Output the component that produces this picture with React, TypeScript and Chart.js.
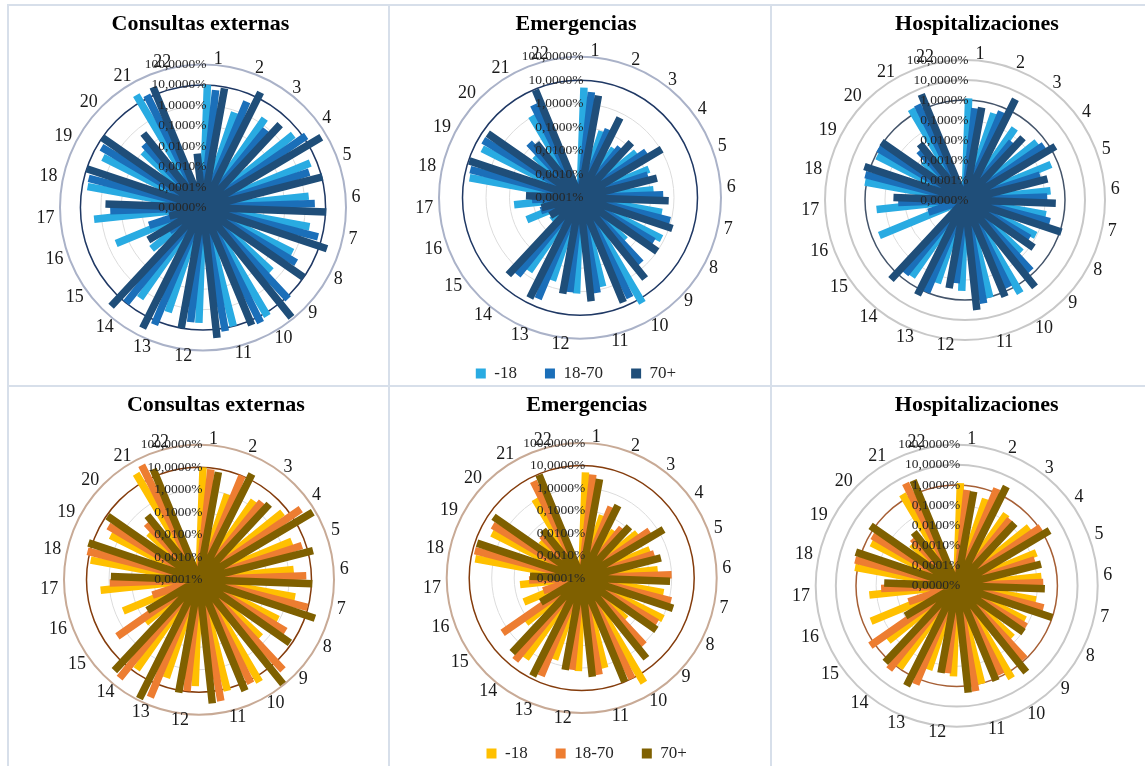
import React, { useEffect, useRef } from 'react';
import { Chart, registerables } from 'chart.js';

Chart.register(...registerables);

// ---------- data ----------
const categories = ['1', '2', '3', '4', '5', '6', '7', '8', '9', '10', '11', '12', '13', '14', '15', '16', '17', '18', '19', '20', '21', '22'];
const seriesLabels = ['-18', '18-70', '70+'];

// values in percent
const consultasTopM18 = [10, 0.8, 2, 4.7, 4.8, 1.6, 2, 0.8, 0.36, 15, 10, 4.5, 2.5, 2.5, 0.017, 0.4, 2.3, 5.5, 3, 0.1, 25, 0];
const consultasTop1870 = [6, 4, 0.8, 14, 3, 3, 6.5, 2, 13, 20, 14, 4.4, 16, 10, 0.001, 0.006, 0.35, 6, 6, 0.17, 14, 0];
const consultasTop70p = [8.5, 20, 3.5, 54, 11, 11, 25, 10, 80, 17, 26, 10, 40, 40, 0.013, 0.0005, 0.6, 10, 10, 0.45, 24, 0.0045];

const emergenciasTopM18 = [4.9, 0.094, 0.035, 0.12, 0.15, 0.14, 0.35, 0.76, 0.043, 16, 0.8, 1.2, 0.52, 0.63, 0.0035, 0.028, 0.066, 5.9, 4.5, 0.042, 1.1, 0];
const emergenciasTop1870 = [3.3, 0.14, 0.054, 0.27, 0.11, 0.35, 0.9, 0.45, 0.63, 5.7, 1.3, 1.1, 4.5, 1.7, 0.0002, 0.0057, 0.011, 6.6, 6.1, 0.15, 2.6, 0];
const emergenciasTop70p = [2.6, 0.63, 0.16, 1.1, 0.24, 0.6, 1.4, 1.0, 2.6, 6.6, 2.7, 1.4, 5.9, 3.0, 0.003, 0.0049, 0.02, 9.3, 6.0, 0.093, 9.1, 0];

const hospitalTopM18 = [1.2, 0.37, 0.23, 0.41, 0.45, 0.2, 0.13, 0.09, 0.068, 2.6, 1.1, 0.35, 0.24, 0.46, 0, 0.43, 0.28, 1.2, 0.83, 0.007, 1.9, 0];
const hospitalTop1870 = [0.41, 0.6, 0.054, 0.63, 0.09, 0.13, 0.24, 0.056, 0.68, 0.76, 1.8, 0.15, 1.0, 0.56, 0, 0.00085, 0.022, 1.4, 1.1, 0.023, 2.1, 0];
const hospitalTop70p = [0.5, 4.3, 0.18, 1.8, 0.18, 0.35, 1.2, 0.15, 3.8, 1.7, 3.4, 0.3, 2.0, 2.7, 0, 0, 0.038, 2.0, 1.2, 0.04, 5.2, 0];

const consultasBotM18 = [10, 1.0, 1.9, 5.9, 2.9, 1.7, 2.2, 0.85, 0.54, 19, 12.5, 5.4, 3.9, 7.2, 0.11, 0.44, 2.5, 7.8, 2.5, 0.11, 30, 0];
const consultasBot1870 = [8.5, 10, 2.8, 32, 6.6, 5.9, 9.5, 3.0, 30, 14, 30, 9.5, 45, 42, 2.6, 0.015, 0.93, 13, 4.8, 0.26, 49, 0];
const consultasBot70p = [7.2, 18, 3.8, 76, 17, 11, 27, 8.3, 90, 22, 34, 12.5, 82, 33, 0.047, 0, 0.83, 15, 8.9, 0.45, 21, 0];

const emergenciasBotM18 = [5, 0.085, 0.035, 0.15, 0.19, 0.25, 0.5, 1.1, 0.048, 26, 1.35, 1.4, 0.66, 2.3, 0.15, 0.06, 0.057, 6.4, 2.9, 0.029, 1.2, 0];
const emergenciasBot1870 = [4.2, 0.26, 0.07, 0.47, 0.25, 1.0, 1.26, 0.8, 1.15, 10, 2.3, 1.26, 5.1, 5.1, 1.9, 0.0063, 0.022, 8, 4.0, 0.039, 6.3, 0];
const emergenciasBot70p = [2.9, 0.4, 0.13, 1.7, 0.43, 0.85, 1.9, 1.1, 3.8, 10, 2.6, 1.4, 7.4, 3.4, 0.013, 0, 0.02, 8, 5.9, 0.055, 9.1, 0];

const hospitalBotM18 = [1.26, 0.35, 0.21, 0.42, 0.19, 0.17, 0.1, 0.063, 0.059, 2.2, 1.07, 0.32, 0.25, 0.93, 0.23, 0.4, 0.23, 1.35, 0.55, 0.011, 1.9, 0];
const hospitalBot1870 = [0.6, 1.65, 0.17, 1.2, 0.12, 0.2, 0.28, 0.1, 0.9, 0.83, 2.1, 0.23, 2.0, 2.2, 1.65, 0.0033, 0.057, 1.6, 0.74, 0.016, 4.8, 0];
const hospitalBot70p = [0.56, 3.2, 0.17, 2.3, 0.21, 0.24, 1.0, 0.11, 3.2, 1.26, 2.2, 0.25, 3.6, 1.6, 0.009, 0, 0.04, 1.9, 1.6, 0.025, 4.5, 0];

// ---------- styles ----------
const blueColors = ['#29abe2', '#1b6fb9', '#1f4e79'];
const orangeColors = ['#ffc000', '#ed7d31', '#7f6000'];
const SERIF = '"Liberation Serif", "Times New Roman", serif';

type Panel = {
  title: string;
  series: number[][];
  colors: string[];
  minExp: number;
  maxExp: number;
  hlExp: number;
  hlColor: string;
  outerColor: string;
  left: number; top: number; width: number; height: number;
  cx: number; cy: number; radius: number;
  titleShift: number;
  legend: boolean;
};

const panels: Panel[] = [
  { title: 'Consultas externas', series: [consultasTopM18, consultasTop1870, consultasTop70p], colors: blueColors,
    minExp: -5, maxExp: 2, hlExp: 1, hlColor: '#1f3864', outerColor: '#aab2c8',
    left: 9, top: 6, width: 379, height: 379, cx: 203, cy: 207.5, radius: 143, titleShift: 2, legend: false },
  { title: 'Emergencias', series: [emergenciasTopM18, emergenciasTop1870, emergenciasTop70p], colors: blueColors,
    minExp: -4, maxExp: 2, hlExp: 1, hlColor: '#1f3864', outerColor: '#aab2c8',
    left: 390, top: 6, width: 380, height: 386, cx: 580, cy: 197.7, radius: 141, titleShift: -4, legend: true },
  { title: 'Hospitalizaciones', series: [hospitalTopM18, hospitalTop1870, hospitalTop70p], colors: blueColors,
    minExp: -5, maxExp: 2, hlExp: 0, hlColor: '#44546a', outerColor: '#c8c8c8',
    left: 772, top: 6, width: 373, height: 379, cx: 965, cy: 200, radius: 140, titleShift: 18.5, legend: false },
  { title: 'Consultas externas', series: [consultasBotM18, consultasBot1870, consultasBot70p], colors: orangeColors,
    minExp: -4, maxExp: 2, hlExp: 1, hlColor: '#843c0c', outerColor: '#c8aa96',
    left: 9, top: 387, width: 379, height: 379, cx: 199, cy: 579.7, radius: 135, titleShift: 17.3, legend: false },
  { title: 'Emergencias', series: [emergenciasBotM18, emergenciasBot1870, emergenciasBot70p], colors: orangeColors,
    minExp: -4, maxExp: 2, hlExp: 1, hlColor: '#843c0c', outerColor: '#c8aa96',
    left: 390, top: 387, width: 380, height: 385, cx: 581.7, cy: 578, radius: 135, titleShift: 6.7, legend: true },
  { title: 'Hospitalizaciones', series: [hospitalBotM18, hospitalBot1870, hospitalBot70p], colors: orangeColors,
    minExp: -5, maxExp: 2, hlExp: 0, hlColor: '#a65f35', outerColor: '#c8c8c8',
    left: 772, top: 387, width: 373, height: 379, cx: 956.7, cy: 585.7, radius: 141, titleShift: 18.2, legend: false },
];

// ---------- helpers ----------
const SLOTS_PER_CAT = 4;
const nSlots = categories.length * SLOTS_PER_CAT;
const START_ANGLE = 180 / nSlots; // degrees: bars sit half a slot clockwise
const slotLabels = Array.from({ length: nSlots }, (_, i) =>
  i % SLOTS_PER_CAT === 1 ? categories[(i - 1) / SLOTS_PER_CAT] : ''
);

function toScale(pct: number, minExp: number) {
  return pct > 0 ? Math.max(0, Math.log10(pct) - minExp) : 0;
}

// each bar: a radial segment from the value point (slot 4c+s) back to the centre (slot 4c+s+1)
function barData(values: number[], s: number, minExp: number) {
  const d: (number | null)[] = new Array(nSlots).fill(null);
  values.forEach((v, c) => {
    d[SLOTS_PER_CAT * c + s] = toScale(v, minExp);
    d[SLOTS_PER_CAT * c + s + 1] = 0;
  });
  return d;
}

function fmtTick(exp: number) {
  return Math.pow(10, exp).toFixed(4).replace('.', ',') + '%';
}

function RadarPanel({ p }: { p: Panel }) {
  const ref = useRef<HTMLCanvasElement | null>(null);
  useEffect(() => {
    if (!ref.current) return;
    const nDec = p.maxExp - p.minExp;
    const ringStyle = (v: number): [string, number] => {
      const exp = v + p.minExp;
      if (exp === p.hlExp) return [p.hlColor, 1.5];
      if (exp > p.hlExp) return [p.outerColor, 2];
      return ['#dcdcdc', 1];
    };
    const startRad = (START_ANGLE * Math.PI) / 180;
    const textPlugin = {
      id: 'radialText',
      afterDatasetsDraw(chart: any) {
        const scale = chart.scales.r;
        const ctx = chart.ctx;
        ctx.save();
        ctx.font = `18px ${SERIF}`;
        ctx.fillStyle = '#1a1a1a';
        ctx.textBaseline = 'middle';
        (chart.data.labels as string[]).forEach((lab, i) => {
          if (!lab) return;
          let ang = scale.getIndexAngle(i) - startRad;
          if (ang < 0) ang += Math.PI * 2;
          const pt = scale.getPointPosition(i, scale.drawingArea + 6, -startRad);
          ctx.textAlign = ang < Math.PI ? 'left' : 'right';
          ctx.fillText(lab, pt.x, pt.y);
        });
        ctx.font = `13.5px ${SERIF}`;
        ctx.fillStyle = '#262626';
        ctx.textAlign = 'right';
        scale.ticks.forEach((t: any) => {
          const d = scale.getDistanceFromCenterForValue(t.value);
          ctx.fillText(t.label, scale.xCenter + 3.5, scale.yCenter - d);
        });
        ctx.restore();
      },
    };
    const shift = p.titleShift * 2;
    const chart = new Chart(ref.current, {
      type: 'radar',
      data: {
        labels: slotLabels,
        datasets: p.series.map((vals, s) => ({
          label: seriesLabels[s],
          data: barData(vals, s, p.minExp),
          borderColor: p.colors[s],
          backgroundColor: p.colors[s],
          borderWidth: 7.5,
          borderCapStyle: 'butt',
          fill: false,
          pointRadius: 0,
          pointHoverRadius: 0,
          pointHitRadius: 0,
          spanGaps: false,
          tension: 0,
          clip: false,
          order: 2 - s,
        })) as any,
      },
      options: {
        responsive: false,
        animation: false,
        devicePixelRatio: 1,
        events: [],
        layout: { padding: { left: Math.max(0, shift), right: Math.max(0, -shift), top: 0, bottom: 0 } },
        plugins: {
          title: {
            display: true,
            text: p.title,
            color: '#000',
            font: { family: SERIF, size: 22, weight: 'bold' },
            padding: { top: 5, bottom: 4 },
          },
          legend: {
            display: p.legend,
            position: 'bottom',
            labels: {
              boxWidth: 10,
              boxHeight: 10,
              padding: 28,
              color: '#262626',
              font: { family: SERIF, size: 17 },
              generateLabels: (ch: any) =>
                ch.data.datasets.map((ds: any, i: number) => ({
                  text: ds.label,
                  fillStyle: ds.borderColor,
                  strokeStyle: ds.borderColor,
                  lineWidth: 0,
                  hidden: false,
                  datasetIndex: i,
                  fontColor: '#262626',
                })),
            },
          },
          tooltip: { enabled: false },
        },
        scales: {
          r: {
            min: 0,
            max: nDec,
            startAngle: START_ANGLE,
            ticks: {
              display: false,
              stepSize: 1,
              callback: (v: any) => fmtTick(Number(v) + p.minExp),
            },
            grid: {
              circular: true,
              color: (c: any) => ringStyle(c.tick ? c.tick.value : 0)[0],
              lineWidth: (c: any) => ringStyle(c.tick ? c.tick.value : 0)[1],
            },
            angleLines: { display: false },
            pointLabels: { display: false },
            afterFit: (scale: any) => {
              scale.xCenter = p.cx - p.left;
              scale.yCenter = p.cy - p.top;
              scale.drawingArea = p.radius;
            },
          } as any,
        },
      } as any,
      plugins: [textPlugin as any],
    });
    return () => chart.destroy();
  }, [p]);
  return (
    <canvas
      ref={ref}
      width={p.width}
      height={p.height}
      style={{ position: 'absolute', left: p.left, top: p.top, width: p.width, height: p.height }}
    />
  );
}

const lineColor = '#d7dfea';

export default function App() {
  return (
    <div style={{ position: 'absolute', left: 0, top: 0, width: 1145, height: 766, overflow: 'hidden', background: '#fff' }}>
      {panels.map((p, i) => (
        <RadarPanel key={i} p={p} />
      ))}
      <div style={{ position: 'absolute', left: 7, top: 4, width: 1138, height: 2, background: lineColor }} />
      <div style={{ position: 'absolute', left: 7, top: 385, width: 1138, height: 2, background: lineColor }} />
      <div style={{ position: 'absolute', left: 7, top: 4, width: 2, height: 762, background: lineColor }} />
      <div style={{ position: 'absolute', left: 388, top: 4, width: 2, height: 762, background: lineColor }} />
      <div style={{ position: 'absolute', left: 770, top: 4, width: 2, height: 762, background: lineColor }} />
    </div>
  );
}
